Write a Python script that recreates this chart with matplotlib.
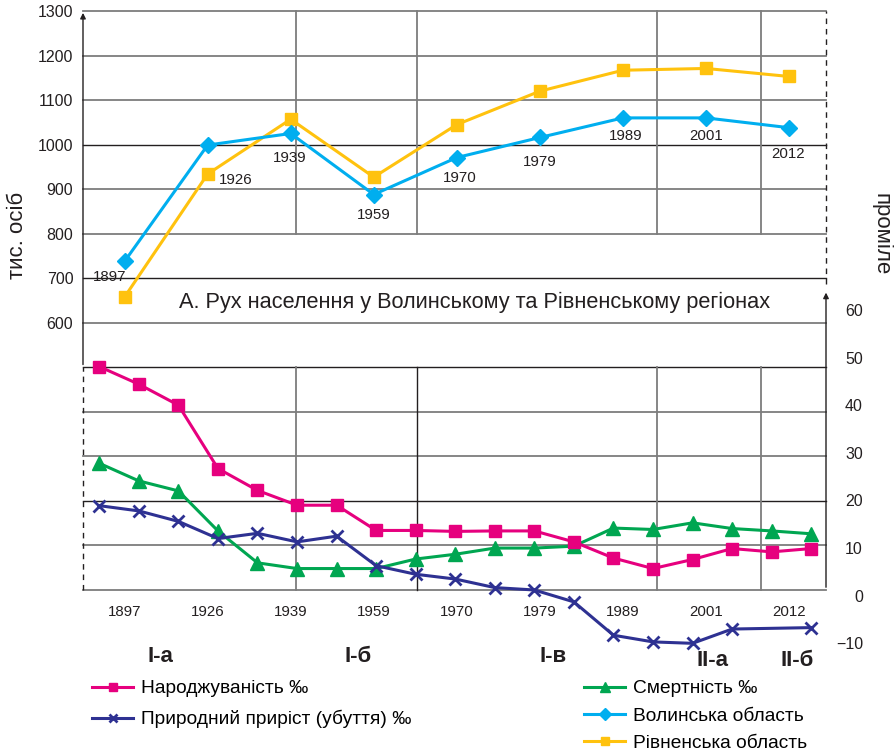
import matplotlib.pyplot as plt
import numpy as np

plt.rcParams['font.family'] = ['Liberation Sans', 'DejaVu Sans']

W, H = 895, 752


def fx(x):
    return x / W


def fy(y):
    return 1 - y / H


# population, thousand people (census years)
years = ['1897', '1926', '1939', '1959', '1970', '1979', '1989', '2001', '2012']
volyn = [738, 999, 1025, 888, 971, 1016, 1060, 1060, 1038]
rivne = [658, 934, 1057, 927, 1045, 1120, 1167, 1171, 1153]

# vital rates, per mille (19 observation points)
birth = [48.1, 44.4, 40.0, 26.7, 22.1, 19.0, 19.0, 13.7, 13.7, 13.5,
         13.6, 13.6, 11.3, 7.9, 5.7, 7.6, 9.9, 9.2, 9.9]
death = [27.8, 24.1, 22.0, 13.6, 6.9, 5.7, 5.7, 5.7, 7.7, 8.7,
         10.0, 10.0, 10.4, 14.2, 13.9, 15.3, 14.1, 13.6, 13.0]
natural_pts = [0, 1, 2, 3, 4, 5, 6, 7, 8, 9, 10, 11, 12, 13, 14, 15, 16, 18]
natural = [18.9, 17.8, 15.6, 12.0, 13.1, 11.3, 12.5, 6.3, 4.5, 3.5,
           1.7, 1.2, -1.3, -8.3, -9.7, -10.0, -7.0, -6.7]

stages = ['І-а', 'І-б', 'І-в', 'ІІ-а', 'ІІ-б']

c_volyn = '#00aeef'
c_rivne = '#ffc20e'
c_birth = '#e6007e'
c_death = '#00a651'
c_nat = '#2e3192'
c_gray = '#7d7d7d'
c_black = '#231f20'

fig = plt.figure(figsize=(W / 100, H / 100), dpi=100)
# plot frame spans pixels x 83..826, y 5..660
ax = fig.add_axes([fx(83), fy(660), (826 - 83) / W, (660 - 5) / H])
ax2 = ax.twinx()

xlo, xhi = -0.412, 18.374
ax.set_xlim(xlo, xhi)
# left scale: 1300 at px 11, 100 per 44.54 px
ax.set_ylim(1300 - (660 - 11) / 0.4454, 1300 - (5 - 11) / 0.4454)
# right scale: 0 at px 595.7, 10 per 47.63 px
ax2.set_ylim((595.7 - 660) / 4.763, (595.7 - 5) / 4.763)

for a in (ax, ax2):
    for s in a.spines.values():
        s.set_visible(False)
ax.set_xticks([])

# grid
for v in range(0, 1400, 100):
    black = v in (200, 500, 700, 1000)
    ax.plot([xlo, xhi], [v, v], color=c_black if black else c_gray,
            lw=1.0 if black else 1.3, clip_on=False, zorder=1)
for xv, col_b in [(4.97, c_gray), (8.03, c_black), (14.10, c_gray), (16.73, c_gray)]:
    ax.plot([xv, xv], [800, 1300], color=c_gray, lw=1.3, clip_on=False, zorder=1)
    ax.plot([xv, xv], [0, 500], color=col_b, lw=1.3 if col_b == c_gray else 1.0,
            clip_on=False, zorder=1)

# axis lines
ax.plot([xlo, xlo], [0, 500], color=c_black, lw=1.0, ls=(0, (4, 3.5)), clip_on=False)
ax.annotate('', xy=(xlo, 1302), xytext=(xlo, 500), annotation_clip=False,
            arrowprops=dict(arrowstyle='-|>', color=c_black, lw=1.0, mutation_scale=8))
ax.plot([xhi, xhi], [688, 1300], color=c_black, lw=1.0, ls=(0, (4, 3.5)), clip_on=False)
ax.annotate('', xy=(xhi, 674), xytext=(xhi, 0), annotation_clip=False,
            arrowprops=dict(arrowstyle='-|>', color=c_black, lw=1.0, mutation_scale=8))

# population lines
top_x = 0.64 + 2.1 * np.arange(len(years))
l_volyn, = ax.plot(top_x, volyn, color=c_volyn, lw=2.2, marker='D', ms=8.5,
                   clip_on=False, zorder=4, label='Волинська область')
l_rivne, = ax.plot(top_x, rivne, color=c_rivne, lw=2.2, marker='s', ms=9,
                   clip_on=False, zorder=3, label='Рівненська область')

offsets = [(-11, -11.5), (20, -25), (-1, -18), (0, -15), (2, -15),
           (0, -18), (2, -13), (0, -13), (-1, -19)]
for x, v, yr, off in zip(top_x, volyn, years, offsets):
    ax.annotate(yr, (x, v), xytext=off, textcoords='offset points',
                ha='center', va='center', fontsize=10.8, color=c_black, zorder=5)

# vital rates
idx = np.arange(len(birth))
l_birth, = ax2.plot(idx, birth, color=c_birth, lw=2.2, marker='s', ms=9,
                    clip_on=False, zorder=4, label='Народжуваність ‰')
l_death, = ax2.plot(idx, death, color=c_death, lw=2.2, marker='^', ms=9.5,
                    clip_on=False, zorder=3, label='Смертність ‰')
l_nat, = ax2.plot(natural_pts, natural, color=c_nat, lw=2.2, marker='x', ms=8.5,
                  mew=2, clip_on=False, zorder=3, label='Природний приріст (убуття) ‰')

# ticks
ax.set_yticks(range(600, 1400, 100))
ax.tick_params(axis='y', length=0, pad=7, labelsize=11.5, labelcolor=c_black)
ax2.set_yticks(range(-10, 70, 10))
ax2.set_yticklabels(['−10'] + [str(v) for v in range(0, 70, 10)])
ax2.tick_params(axis='y', length=0, pad=26.6, labelsize=11.5, labelcolor=c_black)
for lab in ax2.get_yticklabels():
    lab.set_ha('right')

for x, yr in zip(top_x, years):
    ax2.text(x, (595.7 - 612) / 4.763, yr, ha='center', va='center',
             fontsize=10.8, color=c_black)

# texts
fig.text(fx(475), fy(302), 'А. Рух населення у Волинському та Рівненському регіонах',
         ha='center', va='center', fontsize=15.7, color=c_black)
fig.text(fx(18), fy(235), 'тис. осіб', rotation=90, ha='center', va='center',
         fontsize=16, color=c_black)
fig.text(fx(881), fy(234), 'проміле', rotation=-90, ha='center', va='center',
         fontsize=16, color=c_black)

for s, (px, py) in zip(stages, [(160, 657), (358, 657), (553, 657), (712, 660), (797, 660)]):
    fig.text(fx(px), fy(py), s, ha='center', va='center', fontsize=16,
             fontweight='bold', color=c_black)

leg1 = ax.legend(handles=[l_birth, l_nat], loc='upper left',
                 bbox_to_anchor=(fx(92), fy(680)), bbox_transform=fig.transFigure,
                 frameon=False, borderpad=0, borderaxespad=0, fontsize=13.8,
                 handlelength=2.15, handletextpad=0.4, labelspacing=0.66, markerscale=0.7)
ax.add_artist(leg1)
ax.legend(handles=[l_death, l_volyn, l_rivne], loc='upper left',
          bbox_to_anchor=(fx(584), fy(680)), bbox_transform=fig.transFigure,
          frameon=False, borderpad=0, borderaxespad=0, fontsize=13.8,
          handlelength=2.15, handletextpad=0.4, labelspacing=0.52, markerscale=0.7)

fig.savefig('out.png', dpi=100)
